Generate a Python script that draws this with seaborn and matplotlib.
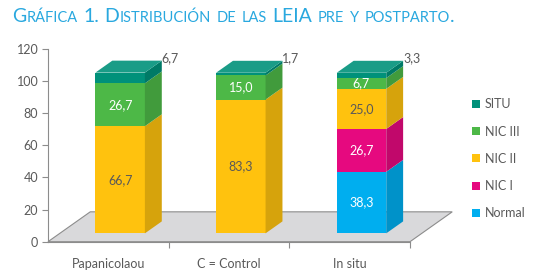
import matplotlib.pyplot as plt
import matplotlib.colors as mcolors
import numpy as np
import pandas as pd
import seaborn as sns
from matplotlib.patches import Patch, Polygon

categories = ["Papanicolaou", "C = Control", "In situ"]
series_names = ["Normal", "NIC I", "NIC II", "NIC III", "SITU"]
normal = [0.0, 0.0, 38.3]
nic1 = [0.0, 0.0, 26.7]
nic2 = [66.7, 83.3, 25.0]
nic3 = [26.7, 15.0, 6.7]
situ = [6.7, 1.7, 3.3]
y_ticks = [0, 20, 40, 60, 80, 100, 120]

colors = {
    "Normal": "#00AEEF",
    "NIC I": "#E6097F",
    "NIC II": "#FFC20E",
    "NIC III": "#4DB847",
    "SITU": "#00917A",
}
label_colors = {
    "Normal": "white",
    "NIC I": "white",
    "NIC II": "#595959",
    "NIC III": "white",
    "SITU": "#595959",
}
title_color = "#29A8DF"
axis_gray = "#8C8C8C"
text_gray = "#595959"

sns.set_style("white")
plt.rcParams["font.family"] = ["Lato", "DejaVu Sans"]

W, H = 543, 276
fig = plt.figure(figsize=(W / 100, H / 100), dpi=100)
ax = fig.add_axes([48 / W, 34.3 / H, 362 / W, 192.7 / H])

# pseudo 3D floor and bar depth (data units)
floor_dx, floor_dy = 0.35, 18.6
front_frac, depth_frac = 0.28, 0.40
shift = front_frac * floor_dx
base = front_frac * floor_dy
dx, dy = depth_frac * floor_dx, depth_frac * floor_dy


def shade(color, k):
    rgb = np.array(mcolors.to_rgb(color))
    return tuple(np.clip(rgb * k, 0, 1))


def lighten(color, k):
    rgb = np.array(mcolors.to_rgb(color))
    return tuple(rgb + (1 - rgb) * k)


floor = Polygon(
    [(-0.5, 0), (-0.5 + floor_dx, floor_dy), (2.5 + floor_dx, floor_dy), (2.5, 0)],
    closed=True, facecolor="#D9D9DB", edgecolor=axis_gray, linewidth=0.8,
    clip_on=False, zorder=1,
)
ax.add_patch(floor)

df = pd.DataFrame({"categoria": categories, "Normal": normal, "NIC I": nic1,
                   "NIC II": nic2, "NIC III": nic3, "SITU": situ})

bottom = np.full(len(categories), base)
top_patches = [None] * len(categories)
for name in series_names:
    vals = df[name].to_numpy()
    n0 = len(ax.patches)
    sns.barplot(data=df, x="categoria", y=name, order=categories, color=colors[name],
                saturation=1, width=0.41, bottom=bottom, errorbar=None,
                linewidth=0, ax=ax, zorder=3)
    for i, p in enumerate(ax.patches[n0:]):
        p.set_x(p.get_x() + shift)
        p.set_clip_on(False)
        x0, x1 = p.get_x(), p.get_x() + p.get_width()
        y0, y1 = p.get_y(), p.get_y() + p.get_height()
        ax.add_patch(Polygon([(x1, y0), (x1 + dx, y0 + dy), (x1 + dx, y1 + dy), (x1, y1)],
                             closed=True, facecolor=shade(colors[name], 0.84),
                             linewidth=0, zorder=3, clip_on=False))
        if vals[i] > 0:
            top_patches[i] = (p, name)
            if name == "SITU":
                ax.text(x1 + dx, y1 + dy + 1.5, f"{vals[i]:.1f}".replace(".", ","),
                        ha="left", va="center", fontsize=9, color=text_gray)
            else:
                ax.text((x0 + x1) / 2, (y0 + y1) / 2, f"{vals[i]:.1f}".replace(".", ","),
                        ha="center", va="center", fontsize=9, color=label_colors[name],
                        zorder=4)
    bottom = bottom + vals

for p, name in top_patches:
    x0, x1 = p.get_x(), p.get_x() + p.get_width()
    y1 = p.get_y() + p.get_height()
    ax.add_patch(Polygon([(x0, y1), (x0 + dx, y1 + dy), (x1 + dx, y1 + dy), (x1, y1)],
                         closed=True, facecolor=lighten(colors[name], 0.1),
                         linewidth=0, zorder=3, clip_on=False))

ax.set_xlim(-0.5, 2.5)
ax.set_ylim(0, 120)
ax.set_yticks(y_ticks)
ax.set_xticks([0.5, 1.5, 2.5])
ax.set_xticklabels([])
ax.set_xticks(range(len(categories)), minor=True)
ax.set_xticklabels(categories, minor=True)
ax.set_xlabel("")
ax.set_ylabel("")
ax.tick_params(axis="x", which="minor", length=0, pad=12, labelsize=9, labelcolor=text_gray)
ax.tick_params(axis="x", which="major", bottom=True, length=4, width=0.8, color=axis_gray)
ax.tick_params(axis="y", left=True, length=4, width=0.8, color=axis_gray,
               labelsize=9, labelcolor=text_gray, pad=3)
for side in ["top", "right"]:
    ax.spines[side].set_visible(False)
for side in ["left", "bottom"]:
    ax.spines[side].set_color(axis_gray)
    ax.spines[side].set_linewidth(0.8)
ax.patch.set_alpha(0)

handles = [Patch(facecolor=colors[n], edgecolor="none") for n in reversed(series_names)]
fig.legend(handles, list(reversed(series_names)), loc="upper left",
           bbox_to_anchor=(461 / W, 1 - 87 / H), frameon=False, fontsize=9,
           handlelength=0.6, handleheight=0.6, handletextpad=0.4, labelspacing=1.22,
           labelcolor=text_gray)

# title in small caps: capitals at full size, lowercase drawn as smaller capitals
title = "Gráfica 1. Distribución de las LEIA pre y postparto."
big, small = 14, 10.5
renderer = fig.canvas.get_renderer()
xpix, ypix = 12, H - 22
space = big * 100 / 72 * 0.29
for word in title.split(" "):
    runs = []
    for ch in word:
        is_small = ch.islower()
        if runs and runs[-1][1] == is_small:
            runs[-1][0] += ch
        else:
            runs.append([ch, is_small])
    for txt, is_small in runs:
        t = fig.text(xpix / W, ypix / H, txt.upper(), fontsize=small if is_small else big,
                     color=title_color, ha="left", va="baseline")
        xpix += t.get_window_extent(renderer).width
    xpix += space

fig.savefig("out.png", dpi=100)
